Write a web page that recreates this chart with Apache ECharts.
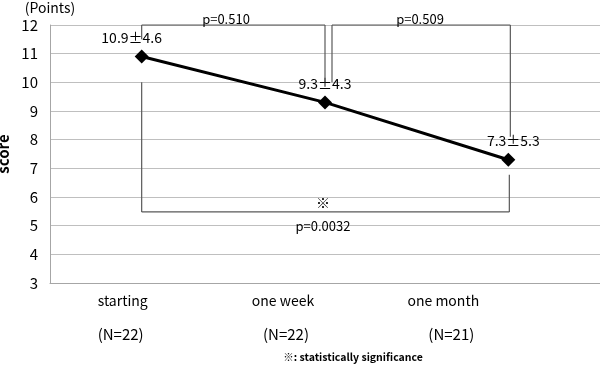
<!DOCTYPE html>
<html><head><meta charset="utf-8">
<script src="https://cdn.jsdelivr.net/npm/echarts@6/dist/echarts.min.js"></script>
<style>html,body{margin:0;padding:0;background:#fff}#c{width:600px;height:366px}</style>
</head><body><div id="c"></div>
<script>
const categories = ['starting', 'one week', 'one month'];
const groupSizes = ['(N=22)', '(N=22)', '(N=21)'];
const means = [10.9, 9.3, 7.3];
const sds = [4.6, 4.3, 5.3];
const yTicks = [3, 4, 5, 6, 7, 8, 9, 10, 11, 12];
const pValues = ['p=0.510', 'p=0.509', 'p=0.0032'];

const FONT = '"Noto Sans CJK JP", "Noto Sans", sans-serif';
const labelOffsets = [[-10, 0], [0, 0], [5, 0]];
const catPadA = [38, 84, 130];
const catPadB = [42, 78, 114];

const rich = {};
categories.forEach((c, i) => {
  rich['a' + i] = {fontSize: 14, fontFamily: FONT, color: '#000', lineHeight: 22, padding: [0, catPadA[i], 0, 0]};
  rich['b' + i] = {fontSize: 15, fontFamily: FONT, color: '#000', lineHeight: 44, padding: [0, catPadB[i], 0, 0]};
});

const chart = echarts.init(document.getElementById('c'));
chart.setOption({
  animation: false,
  grid: {left: 50, right: 0, top: 25, bottom: 83, containLabel: false, outerBoundsMode: 'none'},
  xAxis: {
    type: 'category', data: categories, boundaryGap: true,
    axisLine: {lineStyle: {color: '#a6a6a6'}},
    axisTick: {show: false},
    axisLabel: {
      margin: 7, interval: 0,
      formatter: (v, i) => '{a' + i + '|' + v + '}\n{b' + i + '|' + groupSizes[i] + '}',
      rich: rich
    }
  },
  yAxis: {
    type: 'value', min: yTicks[0], max: yTicks[yTicks.length - 1], interval: 1,
    name: 'score', nameLocation: 'middle', nameGap: 38, nameRotate: 90,
    nameTextStyle: {fontSize: 15, fontWeight: 'bold', fontFamily: FONT, color: '#000'},
    axisLine: {show: true, lineStyle: {color: '#a6a6a6'}},
    axisTick: {show: false},
    axisLabel: {fontSize: 15, fontFamily: FONT, color: '#000', margin: 12},
    splitLine: {lineStyle: {color: '#bfbfbf'}}
  },
  series: [{
    type: 'line',
    data: means.map((m, i) => ({value: m, label: {offset: labelOffsets[i]}})),
    symbol: 'diamond', symbolSize: 14,
    lineStyle: {color: '#000', width: 3},
    itemStyle: {color: '#000'},
    label: {
      show: true, position: 'top', distance: 5,
      fontSize: 14, fontFamily: FONT, color: '#000',
      formatter: p => means[p.dataIndex].toFixed(1) + '±' + sds[p.dataIndex].toFixed(1)
    },
    z: 5
  }]
});

function px(ci, v) { return chart.convertToPixel({gridIndex: 0}, [ci, v]); }
const lineStyle = {stroke: '#595959', lineWidth: 1.2};
function seg(p1, p2) {
  return {type: 'line', shape: {x1: p1[0], y1: p1[1], x2: p2[0], y2: p2[1]}, style: lineStyle, z: 10};
}
function txt(x, y, s, extra) {
  return {type: 'text', x: x, y: y, z: 11, style: Object.assign({text: s, fontSize: 13, fontFamily: FONT, fill: '#000', align: 'center', verticalAlign: 'middle'}, extra || {})};
}
const topV = 12, midV = 10.0, lowV = 5.48;
const a0 = px(0, topV), a1 = px(1, topV), a2 = px(2, topV);
const g = [];
g.push(seg(px(0, 11.5), a0));
g.push(seg(a0, a1));
g.push(seg(a1, px(1, midV)));
const o = 7, o2 = 2;
g.push(seg([a1[0] + o, px(1, midV)[1]], [a1[0] + o, a1[1]]));
g.push(seg([a1[0] + o, a1[1]], [a2[0] + o2, a2[1]]));
g.push(seg([a2[0] + o2, a2[1]], [a2[0] + o2, px(2, 8.1)[1]]));
const b0 = px(0, lowV), b2 = px(2, lowV);
g.push(seg(px(0, midV), b0));
g.push(seg(b0, [b2[0] + 1, b2[1]]));
g.push(seg([b2[0] + 1, px(2, 6.78)[1]], [b2[0] + 1, b2[1]]));
g.push(txt(226, 19, pValues[0]));
g.push(txt(420, 19, pValues[1]));
g.push(txt(px(1, lowV)[0] - 2, b0[1] - 9, '※', {fontSize: 14}));
g.push(txt(px(1, lowV)[0] - 2, b0[1] + 14, pValues[2]));
g.push(txt(50, 8, '(Points)', {fontSize: 14}));
g.push(txt(353, 357, '※: statistically significance', {fontSize: 10.5, fontWeight: 'bold'}));
chart.setOption({graphic: g});
</script>
</body></html>
